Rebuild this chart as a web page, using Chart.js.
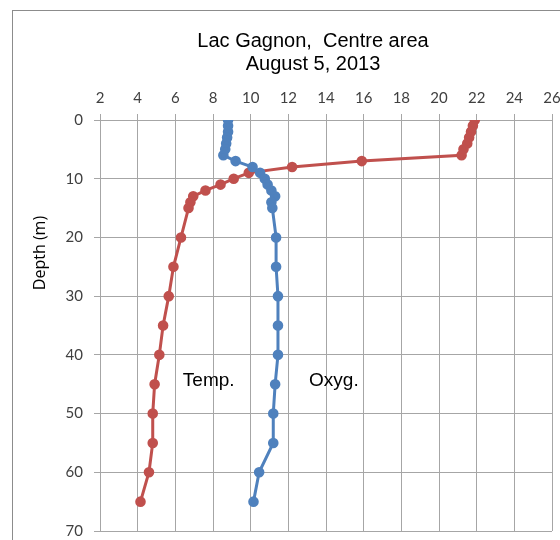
<!DOCTYPE html>
<html>
<head>
<meta charset="utf-8">
<script src="https://cdn.jsdelivr.net/npm/chart.js@4.4.1/dist/chart.umd.min.js"></script>
<style>
    html, body { margin: 0; padding: 0; width: 560px; height: 540px; overflow: hidden; background: #fff; }
    #frame { position: absolute; left: 12px; top: 10px; width: 640px; height: 640px; border: 1px solid #8c8c8c; }
    #wrap  { position: absolute; left: 0; top: 0; width: 620px; height: 580px; }
</style>
</head>
<body>
<div id="frame"></div>
<div id="wrap"><canvas id="chart"></canvas></div>
<script>
'use strict';

// Profil vertical, Lac Gagnon 2013-08-05
const titleLines = ['Lac Gagnon,  Centre area', 'August 5, 2013'];
const yTitle     = 'Depth (m)';
const depths     = [0, 1, 2, 3, 4, 5, 6, 7, 8, 9, 10, 11, 12, 13, 14, 15, 20, 25, 30, 35, 40, 45, 50, 55, 60, 65];
const temp       = [21.9, 21.8, 21.7, 21.6, 21.5, 21.3, 21.2, 15.9, 12.2, 9.9, 9.1, 8.4, 7.6, 6.95, 6.8, 6.7,
                    6.3, 5.9, 5.65, 5.35, 5.15, 4.9, 4.8, 4.8, 4.6, 4.15];
const oxyg       = [8.8, 8.8, 8.8, 8.75, 8.7, 8.65, 8.55, 9.2, 10.1, 10.5, 10.75, 10.9, 11.1, 11.3, 11.1, 11.15,
                    11.35, 11.35, 11.45, 11.45, 11.45, 11.3, 11.2, 11.2, 10.45, 10.15];
const xTicks     = [2, 4, 6, 8, 10, 12, 14, 16, 18, 20, 22, 24, 26];
const yTicks     = [0, 10, 20, 30, 40, 50, 60, 70];
// étiquettes de série posées dans le graphique (valeur x, profondeur)
const seriesLabels = [
    { text: 'Temp.', x: 6.4,  y: 45.3 },
    { text: 'Oxyg.', x: 13.1, y: 45.3 },
];

const RED  = '#C0504D';
const BLUE = '#4F81BD';
const GRID = '#a6a6a6';
const TICK_FONT = { family: 'Lato', size: 15 };

const toPts = vals => vals.map((v, i) => ({ x: v, y: depths[i] }));

const textPlugin = {
    id: 'texts',
    afterDraw(chart) {
        const { ctx, scales: { x, y } } = chart;
        ctx.save();
        ctx.fillStyle = '#000';
        ctx.textBaseline = 'alphabetic';

        ctx.font = '20px "Liberation Sans", Arial, sans-serif';
        ctx.textAlign = 'center';
        ctx.fillText(titleLines[0], 313, 47);
        ctx.fillText(titleLines[1], 313, 70);

        ctx.font = '19px "Liberation Sans", Arial, sans-serif';
        ctx.textAlign = 'left';
        seriesLabels.forEach(l => ctx.fillText(l.text, x.getPixelForValue(l.x), y.getPixelForValue(l.y)));

        ctx.translate(45, 253);
        ctx.rotate(-Math.PI / 2);
        ctx.font = '16px "Open Sans", sans-serif';
        ctx.textAlign = 'center';
        ctx.fillText(yTitle, 0, 0);
        ctx.restore();
    }
};

new Chart(document.getElementById('chart'), {
    type: 'scatter',
    data: {
        datasets: [
            { label: 'Oxyg.', data: toPts(oxyg), showLine: true, borderColor: BLUE, backgroundColor: BLUE,
              borderWidth: 3, pointRadius: 3.8, pointHoverRadius: 3.8 },
            { label: 'Temp.', data: toPts(temp), showLine: true, borderColor: RED, backgroundColor: RED,
              borderWidth: 3, pointRadius: 3.8, pointHoverRadius: 3.8 },
        ]
    },
    plugins: [textPlugin],
    options: {
        responsive: true,
        maintainAspectRatio: false,
        animation: false,
        layout: { padding: { top: 0, left: 0, right: 68, bottom: 49 } },
        plugins: { legend: { display: false }, tooltip: { enabled: false }, title: { display: false } },
        scales: {
            x: {
                type: 'linear', position: 'top', min: xTicks[0], max: xTicks[xTicks.length - 1],
                afterBuildTicks: s => { s.ticks = xTicks.map(v => ({ value: v })); },
                afterFit: s => { s.height = 120; },
                ticks: { color: '#404040', font: TICK_FONT, padding: 7, maxRotation: 0, autoSkip: false },
                grid: { color: GRID, tickLength: 6 },
                border: { color: GRID }
            },
            y: {
                type: 'linear', reverse: true, min: yTicks[0], max: yTicks[yTicks.length - 1],
                afterBuildTicks: s => { s.ticks = yTicks.map(v => ({ value: v })); },
                afterFit: s => { s.width = 100; },
                ticks: { color: '#404040', font: TICK_FONT, padding: 11, autoSkip: false },
                grid: { color: GRID, tickLength: 6 },
                border: { color: GRID }
            }
        }
    }
});
</script>
</body>
</html>
